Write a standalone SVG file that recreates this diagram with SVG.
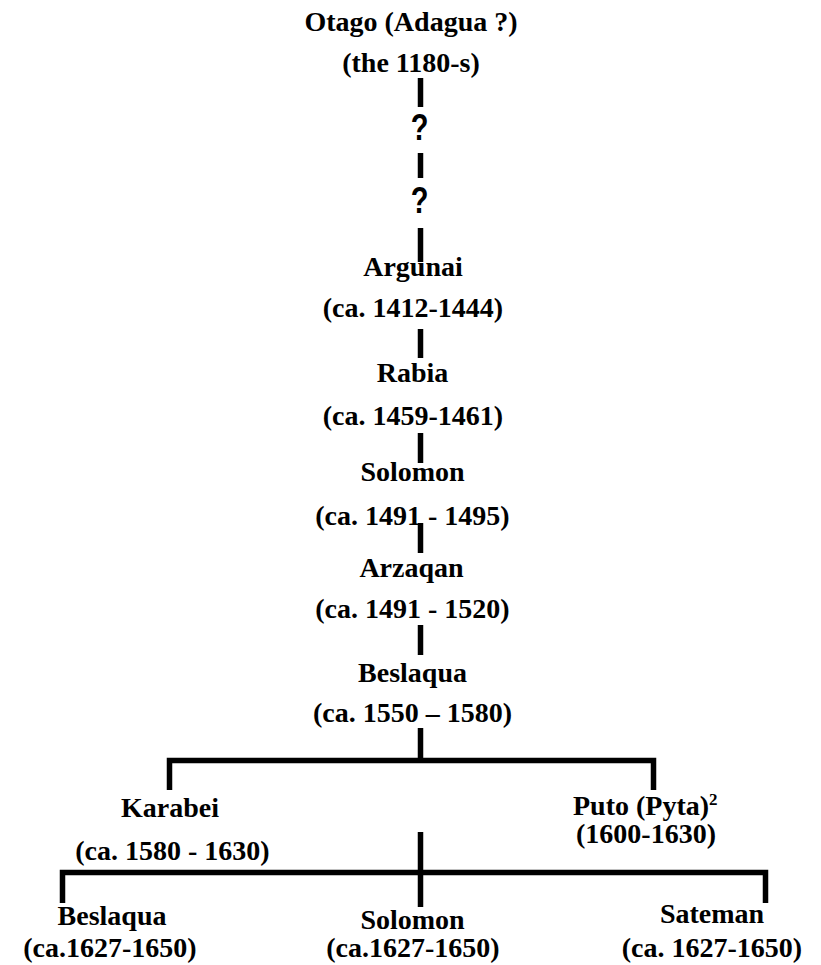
<svg xmlns="http://www.w3.org/2000/svg" width="821" height="965" viewBox="0 0 821 965">
<style>
.t{font-family:"Liberation Serif","Times New Roman",serif;font-weight:bold;font-size:28px;fill:#000;text-anchor:middle}
.q{font-family:"Liberation Sans",Arial,sans-serif;font-weight:bold;font-size:29px;fill:#000;text-anchor:middle}
.c{stroke:#000;stroke-width:5.5;fill:none;stroke-linecap:butt;stroke-linejoin:miter}
</style>
<rect width="821" height="965" fill="#fff"/>
<g id="connectors" class="c">
<line x1="420.5" y1="78" x2="420.5" y2="107"/>
<line x1="420.5" y1="153" x2="420.5" y2="178"/>
<line x1="420.5" y1="228" x2="420.5" y2="262"/>
<line x1="420.5" y1="329" x2="420.5" y2="358"/>
<line x1="420.5" y1="433" x2="420.5" y2="463"/>
<line x1="420.5" y1="523" x2="420.5" y2="553"/>
<line x1="420.5" y1="625" x2="420.5" y2="655"/>
<path d="M420.5 728 V760.5 M169.5 790 V760.5 H653.5 V790"/>
<path d="M420.5 832 V907 M62.5 903 V872.5 H765.5 V903"/>
</g>
<g id="unknown1"><text class="q" x="419.5" y="0" transform="translate(0,140) scale(1,1.28)">?</text></g>
<g id="unknown2"><text class="q" x="419.5" y="0" transform="translate(0,213) scale(1,1.28)">?</text></g>
<g id="otago"><text class="t" x="411" y="31">Otago (Adagua ?)</text><text class="t" x="411" y="72">(the 1180-s)</text></g>
<g id="argunai"><text class="t" x="413" y="276">Argunai</text><text class="t" x="413" y="317">(ca. 1412-1444)</text></g>
<g id="rabia"><text class="t" x="412.5" y="382">Rabia</text><text class="t" x="413" y="425">(ca. 1459-1461)</text></g>
<g id="solomon1"><text class="t" x="412.5" y="481">Solomon</text><text class="t" x="412.5" y="525">(ca. 1491 - 1495)</text></g>
<g id="arzaqan"><text class="t" x="411.5" y="577">Arzaqan</text><text class="t" x="412.5" y="618">(ca. 1491 - 1520)</text></g>
<g id="beslaqua1"><text class="t" x="412.5" y="682">Beslaqua</text><text class="t" x="412.5" y="722">(ca. 1550 – 1580)</text></g>
<g id="karabei"><text class="t" x="170" y="817">Karabei</text><text class="t" x="172.5" y="860">(ca. 1580 - 1630)</text></g>
<g id="puto"><text class="t" x="573" y="815" style="text-anchor:start">Puto (Pyta)<tspan font-size="17" dy="-10">2</tspan></text><text class="t" x="646" y="843">(1600-1630)</text></g>
<g id="beslaqua2"><text class="t" x="112" y="925">Beslaqua</text><text class="t" x="110" y="957">(ca.1627-1650)</text></g>
<g id="solomon2"><text class="t" x="412.5" y="929">Solomon</text><text class="t" x="413" y="957">(ca.1627-1650)</text></g>
<g id="sateman"><text class="t" x="712" y="923">Sateman</text><text class="t" x="712" y="957">(ca. 1627-1650)</text></g>
</svg>
